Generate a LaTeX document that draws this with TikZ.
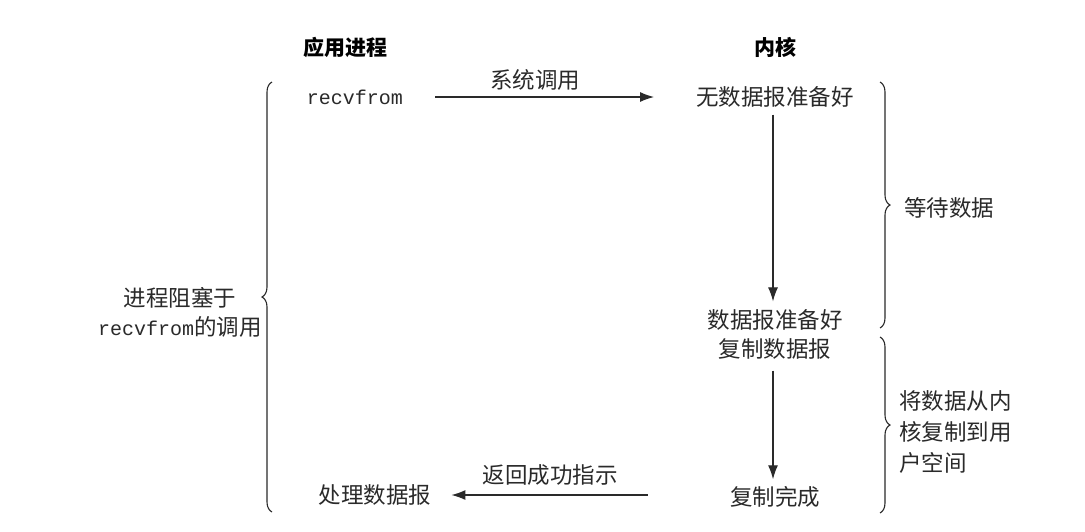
\documentclass[tikz,border=0pt]{standalone}
\usepackage{fontspec}
\setmainfont{Noto Sans CJK SC}
\newfontfamily\cjk{Noto Sans CJK SC}
\setmonofont{Liberation Mono}
\usetikzlibrary{arrows.meta,decorations.pathreplacing}
\definecolor{ink}{HTML}{2A2A2A}
\begin{document}
\begin{tikzpicture}[x=1pt,y=-1pt,
  tx/.style={font=\fontsize{22.5}{26}\selectfont, text=ink, inner sep=2pt},
  hd/.style={font=\fontsize{21}{24}\selectfont\bfseries, text=black, inner sep=2pt},
  tt/.style={font=\fontsize{20}{24}\ttfamily, text=ink, inner sep=2pt},
  arr/.style={draw=ink, line width=1.2pt, -{Latex[length=14pt,width=10pt]}},
  br/.style={draw=ink, line width=1.1pt, decorate, decoration={brace, amplitude=10pt, aspect=0.5}}
]
\useasboundingbox[fill=white] (0,0) rectangle (1085,531);

\node[hd] (app) at (345,47) {应用进程};
\node[hd] (ker) at (775,47) {内核};

\node[tt] (rf) at (355,97) {recvfrom};
\node[tx] (nd) at (775,97) {无数据报准备好};
\node[tx] (dr) at (775,320) {数据报准备好};
\node[tx] (cp) at (775,349) {复制数据报};
\node[tx] (done) at (775,497) {复制完成};
\node[tx] (proc) at (375,495) {处理数据报};

\draw[arr, shorten <=30pt, shorten >=40pt] (rf.east) -- (rf.east -| nd.west);
\node[tx] (sys) at (535,80) {系统调用};

\draw[arr] ([xshift=-2pt,yshift=-5pt]nd.south) -- ([xshift=-2pt,yshift=6pt]dr.north);
\draw[arr] ([xshift=-2pt,yshift=-9pt]cp.south) -- ([xshift=-2pt,yshift=5pt]done.north);

\draw[arr, shorten <=80pt, shorten >=18pt] (done.west |- proc.east) -- (proc.east);
\node[tx] (ret) at (550,475) {返回成功指示};

\draw[br] (272,512) -- (272,82);
\node[tx, align=center] (blk) at (180,312) {进程阻塞于\\[3pt]{\ttfamily\fontsize{20}{24}\selectfont recvfrom}的调用};

\draw[br] (880,82) -- (880,328);
\node[tx] (wait) at (949,208) {等待数据};

\draw[br] (880,337) -- (880,513);
\node[tx, align=left, anchor=west] (copy) at (897,432) {将数据从内\\[5pt]核复制到用\\[5pt]户空间};
\end{tikzpicture}
\end{document}
